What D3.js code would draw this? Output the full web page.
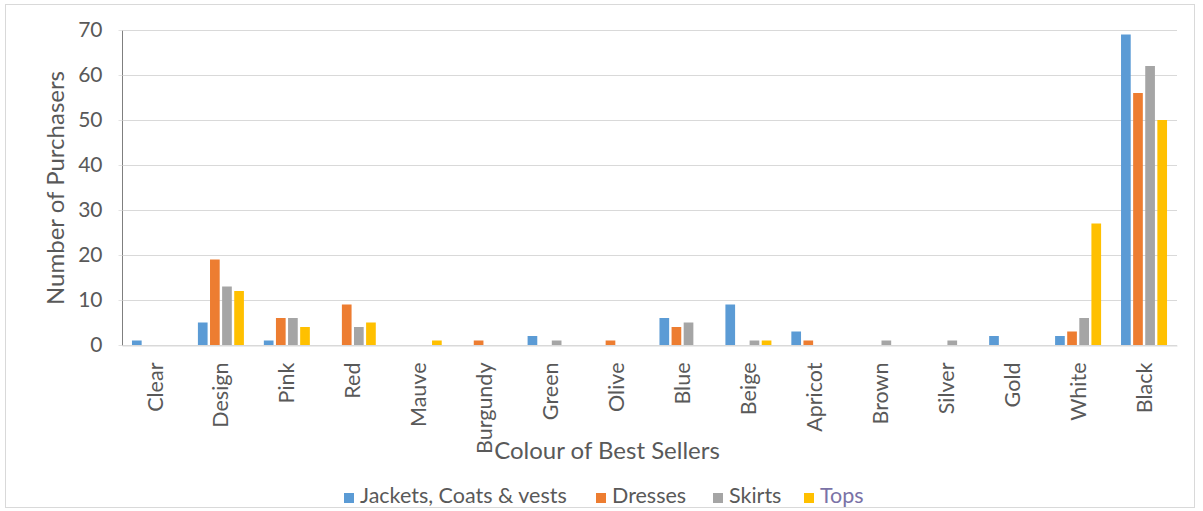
<!DOCTYPE html>
<html>
<head>
<meta charset="utf-8">
<script src="https://cdn.jsdelivr.net/npm/d3@7"></script>
<style>
  html, body { margin: 0; padding: 0; background: #fff; }
  svg { display: block; font-family: Lato, "Open Sans", sans-serif; }
</style>
</head>
<body>
<svg id="chart" width="1203" height="511"></svg>
<script>
const categories = ["Clear","Design","Pink","Red","Mauve","Burgundy","Green","Olive","Blue","Beige","Apricot","Brown","Silver","Gold","White","Black"];
const seriesNames = ["Jackets, Coats & vests","Dresses","Skirts","Tops"];
const jackets = [1,5,1,0,0,0,2,0,6,9,3,0,0,2,2,69];
const dresses = [0,19,6,9,0,1,0,1,4,0,1,0,0,0,3,56];
const skirts  = [0,13,6,4,0,0,1,0,5,1,0,1,1,0,6,62];
const tops    = [0,12,4,5,1,0,0,0,0,1,0,0,0,0,27,50];
const yTicks = [0,10,20,30,40,50,60,70];
const colors = ["#5B9BD5","#ED7D31","#A5A5A5","#FFC000"];

const seriesValues = [jackets, dresses, skirts, tops];
const svg = d3.select("#chart");

// outer border
svg.append("rect").attr("x",5.5).attr("y",4.5).attr("width",1189).attr("height",503)
  .attr("fill","#fff").attr("stroke","#d9d9d9").attr("stroke-width",1);

const pLeft = 122, pRight = 1177, pTop = 30, pBottom = 345;
const x = d3.scaleBand().domain(categories).range([pLeft, pRight]).padding(0);
const xs = d3.scaleBand().domain(d3.range(seriesNames.length)).range([-23, 23]).paddingInner(0.2).paddingOuter(0);
const y = d3.scaleLinear().domain([0,70]).range([pBottom, pTop]);

// gridlines
svg.append("g").selectAll("line").data(yTicks).join("line")
  .attr("x1", pLeft).attr("x2", pRight)
  .attr("y1", d => Math.round(y(d)) + 0.5).attr("y2", d => Math.round(y(d)) + 0.5)
  .attr("stroke", "#d9d9d9").attr("stroke-width", 1);

// bars
seriesValues.forEach((vals, si) => {
  svg.append("g").selectAll("rect").data(categories.map((c,i)=>({c, v: vals[i]}))).join("rect")
    .attr("x", d => x(d.c) + x.bandwidth()/2 + xs(si))
    .attr("width", xs.bandwidth())
    .attr("y", d => y(d.v))
    .attr("height", d => y(0) - y(d.v))
    .attr("fill", colors[si]);
});

// x axis
const xAxis = d3.axisBottom(x).tickSize(0).tickPadding(0);
const xa = svg.append("g").attr("transform", `translate(0,${pBottom + 0.5})`).call(xAxis);
xa.select(".domain").attr("stroke", "#d9d9d9");
xa.selectAll(".tick text")
  .attr("fill", "#595959").style("font-size", "21.5px").style("font-family", "Lato, sans-serif")
  .attr("text-anchor", "end").attr("dy", "0.35em")
  .attr("transform", "translate(0,17) rotate(-90)")
  .attr("x", 0).attr("y", 0);

// y axis
const yAxis = d3.axisLeft(y).tickValues(yTicks).tickSize(4).tickPadding(16).tickFormat(d3.format("d"));
const ya = svg.append("g").attr("transform", `translate(${pLeft + 0.5},0)`).call(yAxis);
ya.select(".domain").attr("stroke", "#7f7f7f").attr("d", `M0,${pTop+0.5}V${pBottom+0.5}`);
ya.selectAll(".tick line").attr("stroke", "#e3e3e3");
ya.selectAll(".tick text").attr("fill", "#595959").style("font-size", "21px").style("font-family", "Lato, sans-serif");

// axis titles
svg.append("text").attr("x", 607).attr("y", 459).attr("text-anchor", "middle")
  .attr("fill", "#595959").style("font-size", "24px").text("Colour of Best Sellers");
svg.append("text").attr("transform", "translate(64,188) rotate(-90)").attr("text-anchor", "middle")
  .attr("fill", "#595959").style("font-size", "24px").text("Number of Purchasers");

// legend
const legendX = [344, 596, 713, 804];
const lg = svg.append("g");
seriesNames.forEach((n, i) => {
  const g = lg.append("g").attr("transform", `translate(${legendX[i]},503)`);
  g.append("rect").attr("x", 0).attr("y", -10).attr("width", 10).attr("height", 10).attr("fill", colors[i]);
  g.append("text").attr("x", 16).attr("y", 0)
    .attr("fill", i === 3 ? "#7a72a6" : "#595959").style("font-size", "21.5px").text(n);
});
</script>
</body>
</html>
